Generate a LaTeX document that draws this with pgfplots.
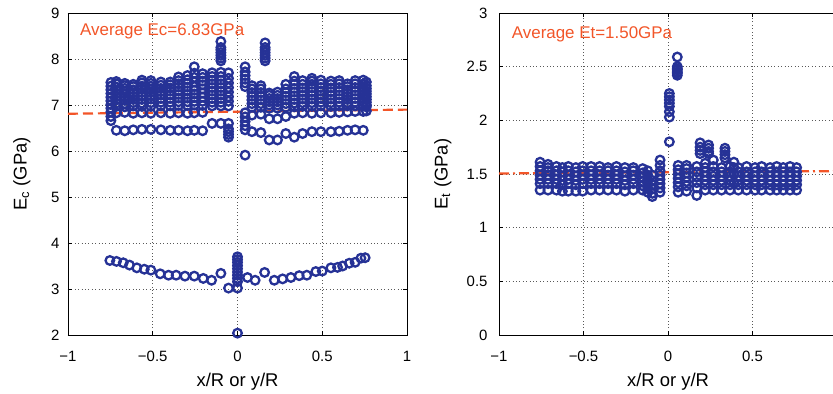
\documentclass[border=0pt]{standalone}
\usepackage{fontspec}
\setmainfont{Liberation Sans}
\usepackage{pgfplots}
\pgfplotsset{compat=1.18}
\usepackage{pgfplotstable}
\definecolor{mk}{RGB}{38,50,150}
\definecolor{av}{RGB}{242,85,40}

\pgfplotstableread{
x y1 y2 y3 y4 y5 y6 y7 y8 y9 y10 y11 y12
-0.747 6.66 6.75 6.85 6.93 7.01 7.09 7.17 7.25 7.33 7.41 7.49 nan
-0.715 6.45 6.83 6.97 7.04 7.11 7.18 7.25 7.32 7.39 7.46 7.51 nan
-0.665 6.44 6.84 6.96 7.03 7.10 7.17 7.24 7.30 7.36 7.42 7.47 nan
-0.615 6.46 6.82 6.98 7.05 7.12 7.19 7.26 7.33 7.40 7.45 nan nan
-0.564 6.47 6.83 6.97 7.04 7.12 7.20 7.27 7.34 7.41 7.48 7.54 nan
-0.511 6.47 6.82 6.97 7.05 7.13 7.20 7.27 7.34 7.41 7.47 7.53 nan
-0.452 6.46 6.83 6.98 7.06 7.14 7.22 7.29 7.36 7.43 7.50 nan nan
-0.397 6.45 6.82 6.98 7.06 7.14 7.22 7.30 7.37 7.44 7.50 nan nan
-0.348 6.45 6.83 6.99 7.07 7.15 7.23 7.31 7.39 7.46 7.53 7.61 nan
-0.295 6.44 6.82 6.99 7.07 7.15 7.23 7.31 7.39 7.47 7.55 7.64 nan
-0.255 6.45 6.83 7.00 7.08 7.16 7.24 7.32 7.40 7.50 7.60 7.69 7.83
-0.206 6.44 6.84 6.99 7.08 7.17 7.26 7.35 7.44 7.52 7.60 7.68 nan
-0.150 6.60 6.98 7.06 7.14 7.22 7.30 7.38 7.46 7.54 7.62 7.70 nan
-0.098 6.60 6.98 7.06 7.14 7.22 7.30 7.38 7.46 7.54 7.62 7.71 nan
-0.098 7.96 8.02 8.08 8.14 8.20 8.25 8.38 nan nan nan nan nan
-0.053 6.30 6.36 6.42 6.48 6.60 6.98 7.08 7.18 7.28 7.38 7.48 7.58
-0.053 7.70 nan nan nan nan nan nan nan nan nan nan nan
0.045 5.91 6.46 6.55 6.64 6.74 6.83 7.40 7.48 7.56 7.64 7.72 7.83
0.085 6.42 6.78 6.95 7.03 7.11 7.19 7.27 7.35 7.42 nan nan nan
0.138 6.40 6.80 6.95 7.03 7.11 7.19 7.27 7.35 7.42 nan nan nan
0.163 7.96 8.02 8.08 8.14 8.20 8.25 8.35 nan nan nan nan nan
0.187 6.24 6.70 6.93 7.00 7.07 7.14 7.21 7.26 nan nan nan nan
0.236 6.24 6.70 6.93 7.00 7.07 7.14 7.21 7.28 nan nan nan nan
0.285 6.38 6.75 6.95 7.03 7.11 7.19 7.27 7.35 7.45 nan nan nan
0.335 6.30 6.82 6.96 7.04 7.12 7.20 7.28 7.36 7.45 7.52 7.62 nan
0.384 6.38 6.83 6.97 7.05 7.13 7.21 7.29 7.37 7.45 7.53 nan nan
0.439 6.42 6.82 6.97 7.05 7.13 7.21 7.29 7.37 7.45 7.52 7.58 nan
0.492 6.42 6.83 6.98 7.06 7.14 7.22 7.30 7.38 7.46 7.54 nan nan
0.551 6.42 6.83 6.97 7.05 7.13 7.21 7.29 7.37 7.45 7.52 nan nan
0.600 6.43 6.84 6.98 7.06 7.14 7.22 7.30 7.38 7.46 7.53 nan nan
0.649 6.45 6.85 6.98 7.05 7.12 7.19 7.26 7.33 7.40 7.46 nan nan
0.694 6.46 6.86 6.98 7.06 7.14 7.22 7.30 7.38 7.46 7.53 nan nan
0.742 6.45 6.86 6.98 7.06 7.14 7.22 7.30 7.38 7.46 7.54 nan nan
0.760 6.87 6.96 7.00 7.06 7.12 7.18 7.24 7.30 7.36 7.42 7.50 nan
}\EcTab

\pgfplotstableread{
x y1 y2 y3 y4 y5 y6 y7 y8
-0.757 1.35 1.41 1.45 1.49 1.53 1.57 1.61 nan
-0.710 1.35 1.41 1.45 1.49 1.53 1.56 1.59 nan
-0.660 1.35 1.41 1.45 1.49 1.53 1.57 nan nan
-0.625 1.34 1.40 1.44 1.48 1.52 1.56 nan nan
-0.590 1.34 1.41 1.45 1.49 1.53 1.57 nan nan
-0.545 1.34 1.40 1.44 1.48 1.52 1.56 nan nan
-0.505 1.34 1.41 1.45 1.49 1.53 1.57 nan nan
-0.455 1.35 1.41 1.45 1.49 1.53 1.57 nan nan
-0.405 1.35 1.41 1.45 1.49 1.53 1.57 nan nan
-0.355 1.35 1.41 1.45 1.49 1.53 1.56 nan nan
-0.305 1.35 1.41 1.45 1.49 1.53 1.57 nan nan
-0.255 1.34 1.40 1.44 1.48 1.52 1.56 nan nan
-0.205 1.35 1.41 1.45 1.49 1.53 1.56 nan nan
-0.150 1.35 1.39 1.43 1.47 1.51 1.55 nan nan
-0.120 1.33 1.37 1.41 1.45 1.49 1.53 nan nan
-0.093 1.29 1.32 1.36 1.40 1.44 1.49 nan nan
-0.047 1.33 1.37 1.41 1.45 1.49 1.53 1.58 1.63
0.008 1.80 2.03 2.08 2.13 2.16 2.19 2.22 2.25
0.055 2.42 2.44 2.45 2.47 2.48 2.50 2.59 nan
0.060 1.33 1.38 1.42 1.46 1.50 1.54 1.58 nan
0.110 1.34 1.39 1.43 1.47 1.51 1.55 1.58 nan
0.170 1.30 1.37 1.42 1.47 1.52 1.57 nan nan
0.190 1.69 1.72 1.75 1.79 nan nan nan nan
0.220 1.35 1.40 1.44 1.48 1.52 1.56 1.60 nan
0.240 1.69 1.71 1.74 1.77 nan nan nan nan
0.268 1.35 1.40 1.44 1.48 1.52 1.57 1.63 nan
0.317 1.35 1.40 1.44 1.48 1.52 1.56 nan nan
0.337 1.65 1.68 1.71 1.74 nan nan nan nan
0.367 1.35 1.40 1.44 1.48 1.52 1.57 nan nan
0.390 1.42 1.50 1.56 1.61 nan nan nan nan
0.416 1.35 1.40 1.44 1.48 1.52 1.56 nan nan
0.465 1.35 1.40 1.44 1.48 1.52 1.57 nan nan
0.515 1.35 1.40 1.44 1.48 1.52 1.56 nan nan
0.554 1.35 1.40 1.44 1.48 1.52 1.57 nan nan
0.604 1.35 1.40 1.44 1.48 1.52 1.56 nan nan
0.643 1.35 1.40 1.44 1.48 1.52 1.57 nan nan
0.682 1.35 1.40 1.44 1.48 1.52 1.56 nan nan
0.722 1.35 1.40 1.44 1.48 1.52 1.57 nan nan
0.761 1.35 1.40 1.44 1.48 1.52 1.56 nan nan
}\EtTab

\pgfplotsset{
  mk/.style={only marks, mark=o, color=mk, mark size=4.3bp, mark options={line width=2.3bp}},
  common/.style={
    scale only axis, height=322bp,
    xmin=-1, xmax=1,
    grid=major,
    grid style={black!65, line width=0.6bp, dash pattern=on 0.8bp off 2.6bp},
    axis line style={black, line width=0.7bp},
    tick style={black, line width=0.6bp},
    major tick length=4bp,
    tick align=inside,
    clip=false,
    /pgf/number format/assume math mode=true,
    ticklabel style={font=\fontsize{15}{15}\selectfont},
    xticklabel style={anchor=base, yshift=-26.7bp},
    every axis x label/.style={at={(axis description cs:0.5,0)}, anchor=base, yshift=-51.7bp, font=\fontsize{18.5}{18.5}\selectfont},
  },
}

\begin{document}
\begin{tikzpicture}
\begin{axis}[common, name=L, at={(0,0)}, anchor=south west,
  width=339bp,
  ymin=2, ymax=9,
  xtick={-1,-0.5,0,0.5,1}, xticklabels={−1,−0.5,0,0.5,1},
  ytick={2,3,4,5,6,7,8,9},
  yticklabel style={xshift=-5bp},
  xlabel={x/R or y/R},
  ylabel={E\textsubscript{c} (GPa)},
  every axis y label/.style={at={(axis description cs:-0.136,0.5)}, rotate=90, anchor=center, font=\fontsize{18.5}{18.5}\selectfont},
]
\pgfplotsinvokeforeach{1,...,12}{\addplot[mk] table[x=x,y=y#1]{\EcTab};}
\addplot[mk] coordinates {(-0.753,3.62)(-0.714,3.60)(-0.674,3.57)(-0.637,3.52)(-0.594,3.46)(-0.55,3.43)(-0.511,3.41)(-0.456,3.33)(-0.407,3.30)(-0.362,3.30)(-0.31,3.28)(-0.255,3.28)(-0.202,3.23)(-0.153,3.19)(-0.098,3.34)(-0.053,3.02)(0,3.02)(0,3.16)(0,3.23)(0,3.30)(0,3.37)(0,3.44)(0,3.51)(0,3.58)(0,3.64)(0,3.70)(0,2.04)(0.059,3.25)(0.104,3.19)(0.16,3.36)(0.217,3.19)(0.266,3.22)(0.315,3.25)(0.364,3.29)(0.409,3.30)(0.462,3.38)(0.50,3.39)(0.551,3.46)(0.59,3.47)(0.62,3.50)(0.659,3.56)(0.694,3.58)(0.728,3.67)(0.753,3.68)};
\addplot[av, line width=2.2bp, dash pattern=on 10bp off 5bp] coordinates {(-1,6.81)(1,6.90)};
\node[anchor=base west, inner sep=0pt, text=av, font=\fontsize{17}{17}\selectfont] at (axis cs:-0.929,8.52) {Average Ec=6.83GPa};
\end{axis}
\begin{axis}[common, name=R, at={(431bp,0)}, anchor=south west,
  width=338bp,
  ymin=0, ymax=3,
  xtick={-1,-0.5,0,0.5}, xticklabels={−1,−0.5,0,0.5},
  ytick={0,0.5,1,1.5,2,2.5,3},
  yticklabel style={xshift=-8bp},
  xlabel={x/R or y/R},
  ylabel={E\textsubscript{t} (GPa)},
  every axis y label/.style={at={(axis description cs:-0.166,0.5)}, rotate=90, anchor=center, font=\fontsize{18.5}{18.5}\selectfont},
]
\pgfplotsinvokeforeach{1,...,8}{\addplot[mk] table[x=x,y=y#1]{\EtTab};}
\addplot[av, line width=2.2bp, dash pattern=on 10bp off 4bp on 2bp off 4bp] coordinates {(-1,1.505)(1,1.527)};
\node[anchor=base west, inner sep=0pt, text=av, font=\fontsize{17}{17}\selectfont] at (axis cs:-0.925,2.76) {Average Et=1.50GPa};
\end{axis}
\pgfresetboundingbox
\path[use as bounding box] (-68bp,-59bp) rectangle (765bp,335bp);
\end{tikzpicture}
\end{document}
